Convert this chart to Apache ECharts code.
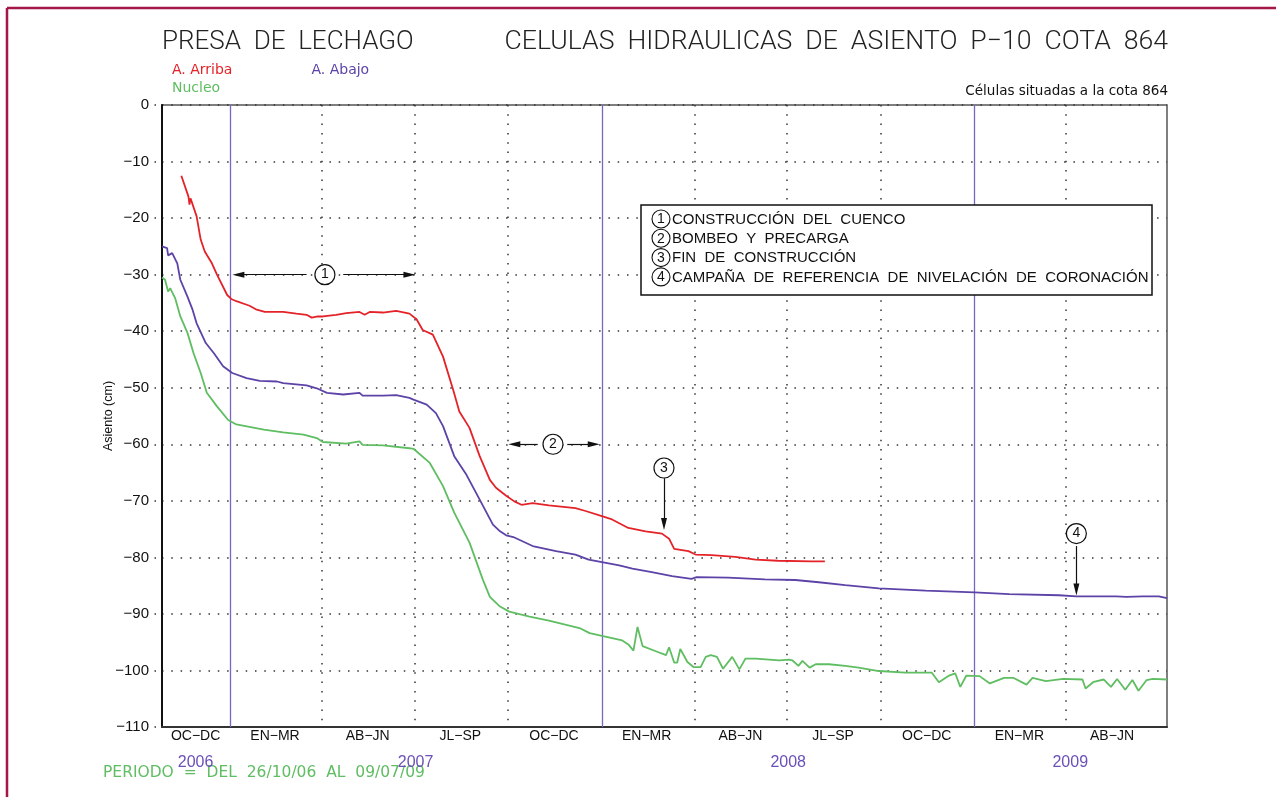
<!DOCTYPE html>
<html>
<head>
<meta charset="utf-8">
<script src="https://cdn.jsdelivr.net/npm/echarts@6/dist/echarts.min.js"></script>
<style>
html,body{margin:0;padding:0;background:#fff;}
#chart{width:1276px;height:797px;}
</style>
</head>
<body>
<div id="chart"></div>
<script>
// Settlement readings (cm) of the hydraulic cells at elevation 864
const seriesNames = ['A. Arriba', 'A. Abajo', 'Nucleo'];

const arribaDates = ['2006-11-14','2006-11-21','2006-11-22','2006-11-23','2006-11-29','2006-12-03','2006-12-07','2006-12-14','2006-12-19','2006-12-29','2007-01-02','2007-01-07','2007-01-20','2007-01-27','2007-02-04','2007-02-22','2007-03-07','2007-03-17','2007-03-22','2007-03-28','2007-04-02','2007-04-15','2007-04-25','2007-05-08','2007-05-13','2007-05-18','2007-05-31','2007-06-13','2007-06-26','2007-07-03','2007-07-09','2007-07-19','2007-07-29','2007-08-08','2007-08-14','2007-08-24','2007-09-03','2007-09-13','2007-09-19','2007-09-29','2007-10-07','2007-10-14','2007-10-25','2007-11-10','2007-12-06','2007-12-16','2008-01-01','2008-01-11','2008-01-27','2008-02-13','2008-02-29','2008-03-07','2008-03-12','2008-03-26','2008-04-02','2008-04-18','2008-05-11','2008-05-31','2008-06-22','2008-07-25','2008-08-07'];
const arribaValues = [-12.5,-16.2,-17.6,-16.5,-19.7,-23.8,-25.9,-28.0,-30.0,-33.6,-34.3,-34.7,-35.5,-36.2,-36.6,-36.6,-36.9,-37.1,-37.6,-37.4,-37.4,-37.1,-36.8,-36.6,-37.1,-36.6,-36.7,-36.4,-36.9,-37.9,-39.8,-40.6,-44.5,-50.4,-54.2,-57.1,-62.1,-66.3,-67.7,-69.1,-70.1,-70.7,-70.4,-70.8,-71.3,-71.8,-72.7,-73.3,-74.8,-75.4,-75.8,-76.7,-78.5,-78.9,-79.5,-79.6,-79.9,-80.4,-80.6,-80.7,-80.7];

const abajoDates = ['2006-10-26','2006-10-31','2006-11-01','2006-11-05','2006-11-10','2006-11-13','2006-11-20','2006-11-25','2006-11-29','2006-12-08','2006-12-16','2006-12-25','2007-01-03','2007-01-17','2007-01-30','2007-02-16','2007-02-22','2007-03-17','2007-03-27','2007-04-06','2007-04-22','2007-05-08','2007-05-11','2007-05-31','2007-06-13','2007-06-26','2007-06-30','2007-07-13','2007-07-22','2007-07-29','2007-08-09','2007-08-21','2007-09-03','2007-09-16','2007-09-23','2007-09-29','2007-10-06','2007-10-25','2007-11-17','2007-12-06','2007-12-19','2008-01-18','2008-01-31','2008-02-19','2008-03-10','2008-03-29','2008-04-03','2008-05-04','2008-06-09','2008-07-09','2008-08-01','2008-08-27','2008-09-29','2008-11-14','2009-01-01','2009-02-04','2009-03-25','2009-04-11','2009-05-20','2009-05-30','2009-06-15','2009-07-01','2009-07-09'];
const abajoValues = [-25.0,-25.3,-26.6,-26.2,-28.0,-30.9,-33.9,-36.2,-38.6,-42.1,-43.9,-46.2,-47.4,-48.3,-48.8,-48.9,-49.2,-49.6,-50.1,-50.9,-51.2,-50.9,-51.4,-51.4,-51.3,-51.8,-52.1,-53.0,-54.5,-56.8,-62.1,-65.4,-69.8,-74.2,-75.4,-76.1,-76.4,-78.0,-78.9,-79.5,-80.4,-81.4,-82.0,-82.6,-83.3,-83.8,-83.5,-83.6,-83.9,-84.0,-84.4,-84.9,-85.5,-85.9,-86.2,-86.5,-86.7,-86.9,-86.9,-87.0,-86.9,-86.9,-87.2];

const nucleoDates = ['2006-10-26','2006-10-29','2006-11-01','2006-11-03','2006-11-08','2006-11-13','2006-11-20','2006-11-26','2006-12-03','2006-12-09','2006-12-19','2006-12-30','2007-01-07','2007-02-03','2007-02-22','2007-03-14','2007-03-27','2007-04-02','2007-04-25','2007-05-08','2007-05-11','2007-05-31','2007-06-26','2007-06-30','2007-07-16','2007-07-29','2007-08-09','2007-08-24','2007-09-06','2007-09-13','2007-09-23','2007-10-02','2007-10-22','2007-11-10','2007-12-10','2007-12-20','2008-01-01','2008-01-21','2008-01-27','2008-02-01','2008-02-05','2008-02-10','2008-02-23','2008-03-04','2008-03-07','2008-03-12','2008-03-15','2008-03-18','2008-03-25','2008-03-31','2008-04-07','2008-04-12','2008-04-17','2008-04-23','2008-04-29','2008-05-08','2008-05-15','2008-05-21','2008-05-31','2008-06-23','2008-07-03','2008-07-06','2008-07-12','2008-07-16','2008-07-23','2008-07-29','2008-08-11','2008-08-27','2008-09-09','2008-09-29','2008-10-25','2008-11-20','2008-11-27','2008-12-07','2008-12-13','2008-12-18','2008-12-24','2009-01-06','2009-01-16','2009-01-30','2009-02-08','2009-02-21','2009-02-27','2009-03-12','2009-03-29','2009-04-17','2009-04-20','2009-04-28','2009-05-08','2009-05-15','2009-05-21','2009-05-29','2009-06-05','2009-06-11','2009-06-19','2009-06-25','2009-07-09'];
const nucleoValues = [-30.5,-30.9,-33.0,-32.4,-34.2,-37.4,-40.3,-43.9,-47.4,-50.9,-53.3,-55.7,-56.5,-57.4,-57.9,-58.3,-58.9,-59.6,-59.9,-59.5,-60.1,-60.2,-60.7,-60.8,-63.3,-67.4,-72.1,-77.4,-83.9,-87.0,-88.7,-89.6,-90.5,-91.2,-92.5,-93.4,-93.9,-94.7,-95.4,-96.5,-92.3,-95.7,-96.6,-97.3,-95.9,-98.6,-98.6,-96.2,-98.5,-99.4,-99.4,-97.6,-97.3,-97.6,-99.7,-97.6,-99.8,-97.9,-97.9,-98.2,-98.1,-98.2,-99.2,-98.3,-99.5,-98.9,-98.9,-99.2,-99.5,-100.1,-100.4,-100.4,-102.1,-100.9,-100.5,-102.9,-100.9,-101.0,-102.3,-101.3,-101.3,-102.5,-101.3,-101.9,-101.5,-101.6,-103.2,-102.0,-101.6,-102.9,-101.5,-103.4,-101.7,-103.6,-101.7,-101.5,-101.6];

// Time frame and calendar divisions
const periodStart = '2006-10-26';
const periodEnd = '2009-07-09';
const yearBounds = ['2007-01-01', '2008-01-01', '2009-01-01'];
const quarterBounds = ['2007-04-01', '2007-07-01', '2007-10-01', '2008-04-01', '2008-07-01', '2008-10-01', '2009-04-01'];
const quarterLabelDates = ['2006-11-28', '2007-02-14', '2007-05-16', '2007-08-15', '2007-11-15', '2008-02-14', '2008-05-16', '2008-08-15', '2008-11-15', '2009-02-14', '2009-05-16'];
const quarterLabels = ['OC−DC', 'EN−MR', 'AB−JN', 'JL−SP', 'OC−DC', 'EN−MR', 'AB−JN', 'JL−SP', 'OC−DC', 'EN−MR', 'AB−JN'];
const yearLabelDates = ['2006-11-28', '2007-07-02', '2008-07-02', '2009-04-05'];
const yearLabels = ['2006', '2007', '2008', '2009'];
const yTicks = { min: -110, max: 0, step: 10 };

// Milestones: range arrows, pointer arrows and numbered circles
const rangeNotes = [
  { n: '1', value: -30, center: '2007-04-04', left: ['2007-03-17', '2007-01-09'], right: ['2007-04-22', '2007-06-26'] },
  { n: '2', value: -60, center: '2007-11-14', left: ['2007-10-30', '2007-10-07'], right: ['2007-11-28', '2007-12-24'] }
];
const pointerNotes = [
  { n: '3', date: '2008-03-02', circle: -64.2, from: -66.0, to: -74.1 },
  { n: '4', date: '2009-04-11', circle: -75.8, from: -78.0, to: -85.7 }
];
const noteTexts = [
  'CONSTRUCCIÓN  DEL  CUENCO',
  'BOMBEO  Y  PRECARGA',
  'FIN  DE  CONSTRUCCIÓN',
  'CAMPAÑA  DE  REFERENCIA  DE  NIVELACIÓN  DE  CORONACIÓN'
];

const RED = '#e42329', PURPLE = '#5d43a8', GREEN = '#5fbd62', YEAR_LINE = '#7865c6', FRAME = '#a3174a';
const SANS = 'Liberation Sans, Arial, sans-serif';

// Dates are placed on a numeric axis of local-time milliseconds
const localTime = s => { const [y, m, d] = s.split('-').map(Number); return new Date(y, m - 1, d).getTime(); };
const pair = (ds, vs) => ds.map((d, i) => [localTime(d), vs[i]]);
const labelLookup = (dates, labels) => {
  const map = {};
  dates.forEach((d, i) => { map[localTime(d)] = labels[i]; });
  return v => (map[v] !== undefined ? map[v] : '');
};

const markLineData = [];
rangeNotes.forEach(r => {
  [r.left, r.right].forEach(seg => {
    markLineData.push([
      { coord: [localTime(seg[0]), r.value], symbol: 'none' },
      { coord: [localTime(seg[1]), r.value], symbol: 'triangle', symbolSize: [6, 12] }
    ]);
  });
});
pointerNotes.forEach(p => {
  markLineData.push([
    { coord: [localTime(p.date), p.from], symbol: 'none' },
    { coord: [localTime(p.date), p.to], symbol: 'triangle', symbolSize: [6, 12] }
  ]);
});
const markPointData = rangeNotes.map(r => ({ coord: [localTime(r.center), r.value], value: r.n }))
  .concat(pointerNotes.map(p => ({ coord: [localTime(p.date), p.circle], value: p.n })));

// Note box with the milestone descriptions
const box = { x: 641, y: 205, w: 511, h: 90 };
const noteGraphics = [{
  type: 'rect', shape: { x: box.x, y: box.y, width: box.w, height: box.h },
  style: { fill: '#fff', stroke: '#111', lineWidth: 1.5 }, z: 10
}];
noteTexts.forEach((t, i) => {
  const cy = 219 + i * 19.3;
  noteGraphics.push({ type: 'circle', shape: { cx: 661, cy: cy, r: 9 }, style: { fill: '#fff', stroke: '#111', lineWidth: 1.1 }, z: 11 });
  noteGraphics.push({ type: 'text', x: 661, y: cy + 0.5, style: { text: String(i + 1), fontSize: 14, fontFamily: SANS, fill: '#111', align: 'center', verticalAlign: 'middle' }, z: 12 });
  noteGraphics.push({ type: 'text', x: 672, y: cy + 0.5, style: { text: t, fontSize: 15, fontFamily: SANS, fill: '#111', verticalAlign: 'middle' }, z: 12 });
});

const xMin = localTime(periodStart), xMax = localTime(periodEnd);

const chart = echarts.init(document.getElementById('chart'));
chart.setOption({
  animation: false,
  backgroundColor: '#fff',
  title: [
    { text: 'PRESA  DE  LECHAGO', left: 162, top: 29, padding: 0,
      textStyle: { fontFamily: 'Roboto', fontWeight: 300, fontSize: 26, color: '#222' } },
    { text: 'CELULAS  HIDRAULICAS  DE  ASIENTO  P−10  COTA  864', right: 108, top: 29, padding: 0,
      textStyle: { fontFamily: 'Roboto', fontWeight: 300, fontSize: 26.6, color: '#222' } },
    { text: 'Células situadas a la cota 864', right: 108, top: 84, padding: 0,
      textStyle: { fontFamily: 'DejaVu Sans', fontWeight: 'normal', fontSize: 13.5, color: '#111' } }
  ],
  legend: [
    { data: [{ name: seriesNames[0], textStyle: { color: RED } }, { name: seriesNames[1], textStyle: { color: PURPLE } }],
      left: 167, top: 63, padding: 0, icon: 'none', itemWidth: 0, itemHeight: 0, itemGap: 74,
      textStyle: { fontFamily: 'DejaVu Sans', fontSize: 14 }, selectedMode: false },
    { data: [{ name: seriesNames[2], textStyle: { color: GREEN } }],
      left: 167, top: 81, padding: 0, icon: 'none', itemWidth: 0, itemHeight: 0,
      textStyle: { fontFamily: 'DejaVu Sans', fontSize: 14 }, selectedMode: false }
  ],
  grid: { left: 162, right: 109, top: 105, bottom: 70, show: true, borderColor: '#555', borderWidth: 1.5, backgroundColor: 'transparent' },
  xAxis: [
    {
      type: 'value', min: xMin, max: xMax, scale: true,
      axisLine: { show: true, onZero: false, lineStyle: { color: '#333', width: 2 } },
      axisTick: { show: false, customValues: quarterBounds.map(localTime) },
      splitLine: { show: true, lineStyle: { color: '#333', width: 1.5, type: [1.5, 7.8] } },
      axisLabel: {
        customValues: quarterLabelDates.map(localTime), formatter: labelLookup(quarterLabelDates, quarterLabels),
        margin: 2, fontFamily: SANS, fontSize: 14, color: '#111', hideOverlap: false
      }
    },
    {
      type: 'value', min: xMin, max: xMax, scale: true, position: 'bottom', offset: 27,
      axisLine: { show: false }, axisTick: { show: false }, splitLine: { show: false },
      axisLabel: {
        customValues: yearLabelDates.map(localTime), formatter: labelLookup(yearLabelDates, yearLabels),
        margin: 1, fontFamily: SANS, fontSize: 16, color: '#6a50b8', hideOverlap: false
      }
    }
  ],
  yAxis: {
    type: 'value', min: yTicks.min, max: yTicks.max, interval: yTicks.step,
    name: 'Asiento (cm)', nameLocation: 'middle', nameGap: 47, nameMoveOverlap: false,
    nameTextStyle: { fontFamily: SANS, fontSize: 12.5, color: '#111' },
    axisLine: { show: true, onZero: false, lineStyle: { color: '#111', width: 2 } },
    axisTick: { show: true, length: 8, lineStyle: { color: '#333', width: 1.5, type: [0, 6, 1.5, 20] } },
    splitLine: { show: true, lineStyle: { color: '#333', width: 1.5, type: [1.5, 7.8] } },
    axisLabel: { margin: 13, fontFamily: SANS, fontSize: 15, color: '#111',
      formatter: v => (v === 0 ? '0' : '−' + Math.abs(v)) }
  },
  series: [
    { name: seriesNames[0], type: 'line', data: pair(arribaDates, arribaValues), showSymbol: false, symbol: 'none',
      lineStyle: { color: RED, width: 1.8 }, itemStyle: { color: RED }, z: 5 },
    { name: seriesNames[1], type: 'line', data: pair(abajoDates, abajoValues), showSymbol: false, symbol: 'none',
      lineStyle: { color: PURPLE, width: 1.8 }, itemStyle: { color: PURPLE }, z: 5,
      markLine: { silent: true, symbol: 'none', label: { show: false },
        lineStyle: { color: YEAR_LINE, width: 1.3, type: 'solid' },
        data: yearBounds.map(d => ({ xAxis: localTime(d) })) } },
    { name: seriesNames[2], type: 'line', data: pair(nucleoDates, nucleoValues), showSymbol: false, symbol: 'none',
      lineStyle: { color: GREEN, width: 1.8 }, itemStyle: { color: GREEN }, z: 5 },
    { name: 'hitos', type: 'line', data: [], silent: true, z: 6,
      markLine: { silent: true, label: { show: false }, lineStyle: { color: '#111', width: 1.2, type: 'solid' },
        itemStyle: { color: '#111' }, data: markLineData },
      markPoint: { silent: true, symbol: 'circle', symbolSize: 20,
        itemStyle: { color: '#fff', borderColor: '#111', borderWidth: 1.2 },
        label: { show: true, position: 'inside', color: '#111', fontFamily: SANS, fontSize: 14, formatter: p => p.value },
        data: markPointData } }
  ],
  graphic: [
    { type: 'line', shape: { x1: 7, y1: 8, x2: 1276, y2: 8 }, style: { stroke: FRAME, lineWidth: 2.5 } },
    { type: 'line', shape: { x1: 7, y1: 8, x2: 7, y2: 797 }, style: { stroke: FRAME, lineWidth: 2.5 } },
    { type: 'text', x: 103, y: 773, style: { text: 'PERIODO  =  DEL  26/10/06  AL  09/07/09', fontFamily: 'DejaVu Sans', fontSize: 15.5, fill: GREEN, verticalAlign: 'middle' } }
  ].concat(noteGraphics)
});
</script>
</body>
</html>
